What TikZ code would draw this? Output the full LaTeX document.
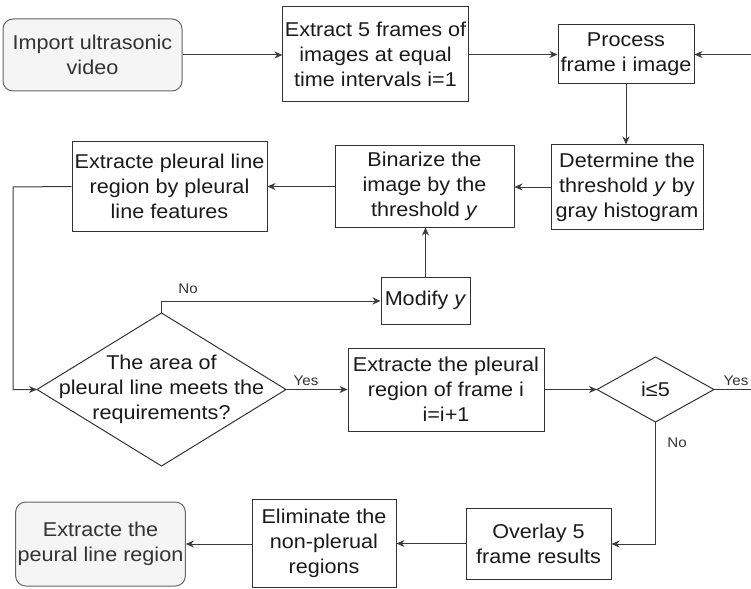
\documentclass[tikz,border=0pt]{standalone}
\usepackage{fontspec}
\setmainfont{Liberation Sans}[FakeStretch=1.08]
\usetikzlibrary{arrows.meta}
\definecolor{linec}{HTML}{3A3A3A}
\definecolor{boxc}{HTML}{333333}
\definecolor{grayfill}{HTML}{F5F5F5}
\definecolor{grayline}{HTML}{666666}
\definecolor{txt}{HTML}{1A1A1A}
\tikzset{
  box/.style={draw=boxc, line width=1pt, align=center, inner sep=2pt, text=txt,
    font=\fontsize{20}{25}\selectfont},
  termbox/.style={box, draw=grayline, fill=grayfill, rounded corners=10pt, text=boxc},
  conn/.style={draw=linec, line width=1pt, -{Stealth[length=8pt,width=7pt]}},
  plain/.style={draw=linec, line width=1pt},
  diam/.style={draw=boxc, line width=1pt},
  lbl/.style={font=\fontsize{14}{16}\selectfont, text=boxc, inner sep=0pt},
  dtext/.style={align=center, text=txt, inner sep=0pt, font=\fontsize{20}{25}\selectfont}
}
\begin{document}
\begin{tikzpicture}[x=1pt,y=-1pt]
\useasboundingbox (0,0) rectangle (751,588);

% nodes
\node[termbox, minimum width=179pt, minimum height=72pt] (import) at (92.5,55) {Import ultrasonic\\video};
\node[box, minimum width=185pt, minimum height=95pt] (extract5) at (375.5,54.5) {Extract 5 frames of\\images at equal\\time intervals i=1};
\node[box, minimum width=136pt, minimum height=59pt] (process) at (626,54.5) {Process\\frame i image};
\node[box, minimum width=152pt, minimum height=84pt] (determine) at (627,187) {Determine the\\threshold \textit{y} by\\gray histogram};
\node[box, minimum width=179pt, minimum height=81pt] (binarize) at (424.5,186.5) {Binarize the\\image by the\\threshold \textit{y}};
\node[box, minimum width=195pt, minimum height=89pt] (extractpl) at (169.5,186.5) {Extracte pleural line\\region by pleural\\line features};
\node[box, minimum width=89pt, minimum height=47pt] (modify) at (425.5,300.5) {Modify \textit{y}};

% area diamond
\coordinate (areaL) at (37,389.5);
\coordinate (areaT) at (161.5,313);
\coordinate (areaR) at (286,389.5);
\coordinate (areaB) at (161.5,466);
\draw[diam] (areaL) -- (areaT) -- (areaR) -- (areaB) -- cycle;
\node[dtext] (area) at (161.5,389.5) {The area of\\pleural line meets the\\requirements?};

\node[box, minimum width=196pt, minimum height=83pt] (extractfr) at (446,389.5) {Extracte the pleural\\region of frame i\\i=i+1};

% i<=5 diamond
\coordinate (ileL) at (597,389.5);
\coordinate (ileT) at (655.5,357);
\coordinate (ileR) at (714,389.5);
\coordinate (ileB) at (655.5,422);
\draw[diam] (ileL) -- (ileT) -- (ileR) -- (ileB) -- cycle;
\node[dtext] (ile) at (655.5,389.5) {i≤5};

\node[box, minimum width=145pt, minimum height=71pt] (overlay) at (538.5,543.5) {Overlay 5\\frame results};
\node[box, minimum width=144pt, minimum height=88pt] (eliminate) at (324,543) {Eliminate the\\non-plerual\\regions};
\node[termbox, minimum width=169pt, minimum height=84pt] (final) at (100.5,544) {Extracte the\\peural line region};

% helper coordinates
\coordinate (leftbend) at (13,187);
\coordinate (nobend) at (161.5,301);
\coordinate (rightdown) at (753,389.5);
\coordinate (rightup) at (753,54.5);
\coordinate (nodown) at (655.5,544);

% connectors
\draw[conn] (import.east) -- (extract5.west |- import.east);
\draw[conn] (extract5.east |- process.west) -- (process.west);
\draw[conn] (process.south) -- (process.south |- determine.north);
\draw[conn] (determine.west) -- (binarize.east |- determine.west);
\draw[conn] (binarize.west) -- (extractpl.east |- binarize.west);
\draw[conn] (extractpl.west) -- (leftbend) |- (areaL);
\draw[conn] (areaT) -- (nobend) -- (modify.west |- nobend);
\draw[conn] (modify.north) -- (modify.north |- binarize.south);
\draw[conn] (areaR) -- (extractfr.west);
\draw[conn] (extractfr.east) -- (ileL);
\draw[conn] (ileR) -- (rightdown) -- (rightup) -- (process.east);
\draw[conn] (ileB) -- (nodown) -- (overlay.east |- nodown);
\draw[conn] (overlay.west) -- (eliminate.east |- overlay.west);
\draw[conn] (eliminate.west |- final.east) -- (final.east);

% labels
\node[lbl] (lno1) at (188,289) {No};
\node[lbl] (lyes1) at (306,381) {Yes};
\node[lbl] (lyes2) at (736,381) {Yes};
\node[lbl] (lno2) at (677,443) {No};
\end{tikzpicture}
\end{document}
